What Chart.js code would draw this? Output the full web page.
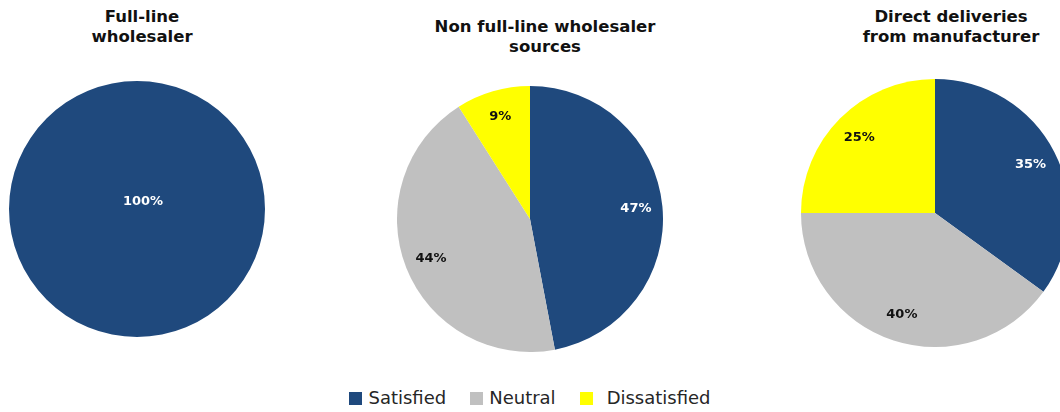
<!DOCTYPE html>
<html>
<head>
<meta charset="utf-8">
<script src="https://cdn.jsdelivr.net/npm/chart.js@4"></script>
<style>
    html, body { margin: 0; padding: 0; background: #fff; }
    body { width: 1060px; height: 412px; overflow: hidden; position: relative; }
    .pie { position: absolute; }
    .title {
        position: absolute;
        font-family: "DejaVu Sans", Verdana, sans-serif;
        font-weight: bold;
        font-size: 16.5px;
        line-height: 20px;
        color: #111;
        text-align: center;
        width: 280px;
    }
    #legend {
        position: absolute;
        left: 0; top: 387px; width: 1060px;
        font-family: "DejaVu Sans", Verdana, sans-serif;
        font-size: 18px;
        color: #262626;
        text-align: center;
        white-space: nowrap;
    }
    #legend span.item { display: inline-block; margin: 0 12px; }
    #legend span.box { display: inline-block; width: 13px; height: 13px; margin-right: 6px; vertical-align: -1px; }
</style>
</head>
<body>

<div class="title" style="left:2px; top:7px;">Full-line<br>wholesaler</div>
<div class="title" style="left:405px; top:17px;">Non full-line wholesaler<br>sources</div>
<div class="title" style="left:811px; top:7px;">Direct deliveries<br>from manufacturer</div>

<canvas id="pie1" class="pie" width="256" height="256" style="left:9px; top:81px;"></canvas>
<canvas id="pie2" class="pie" width="266" height="266" style="left:397px; top:86px;"></canvas>
<canvas id="pie3" class="pie" width="268" height="268" style="left:801px; top:79px;"></canvas>

<div id="legend"></div>

<script>
// categories and values (percent) for each source
const categories = ['Satisfied', 'Neutral', 'Dissatisfied'];
const colors = ['#1F497D', '#C0C0C0', '#FFFF00'];
const fullLine = [100, 0, 0];
const nonFullLine = [47, 44, 9];
const directDelivery = [35, 40, 25];

// percent labels drawn on each slice
const sliceLabels = {
    id: 'sliceLabels',
    afterDatasetsDraw(chart) {
        const ctx = chart.ctx;
        const meta = chart.getDatasetMeta(0);
        const values = chart.data.datasets[0].data;
        ctx.save();
        ctx.font = 'bold 13px "DejaVu Sans", Verdana, sans-serif';
        ctx.textAlign = 'center';
        ctx.textBaseline = 'middle';
        meta.data.forEach(function(arc, i) {
            if (!values[i]) return;
            const p = arc.getProps(['x', 'y', 'startAngle', 'endAngle', 'outerRadius'], true);
            let x = p.x + 6, y = p.y - 7;
            if (p.endAngle - p.startAngle < Math.PI * 2 - 0.001) {
                const mid = (p.startAngle + p.endAngle) / 2;
                const r = p.outerRadius * 0.8;
                x = p.x + Math.cos(mid) * r;
                y = p.y + Math.sin(mid) * r;
            }
            ctx.fillStyle = i === 0 ? '#ffffff' : '#111111';
            ctx.fillText(values[i] + '%', x, y);
        });
        ctx.restore();
    }
};

function makePie(id, values) {
    new Chart(document.getElementById(id), {
        type: 'pie',
        data: {
            labels: categories,
            datasets: [{
                data: values,
                backgroundColor: colors,
                borderWidth: 0
            }]
        },
        options: {
            responsive: false,
            animation: false,
            layout: { padding: 0 },
            plugins: {
                legend: { display: false },
                tooltip: { enabled: false }
            }
        },
        plugins: [sliceLabels]
    });
}

document.addEventListener('DOMContentLoaded', function() {
    makePie('pie1', fullLine);
    makePie('pie2', nonFullLine);
    makePie('pie3', directDelivery);

    // legend under the pies
    const legend = document.getElementById('legend');
    categories.forEach(function(name, i) {
        const item = document.createElement('span');
        item.className = 'item';
        const box = document.createElement('span');
        box.className = 'box';
        box.style.background = colors[i];
        if (i === 2) box.style.marginRight = '14px';
        item.appendChild(box);
        item.appendChild(document.createTextNode(name));
        legend.appendChild(item);
    });
});
</script>
</body>
</html>
